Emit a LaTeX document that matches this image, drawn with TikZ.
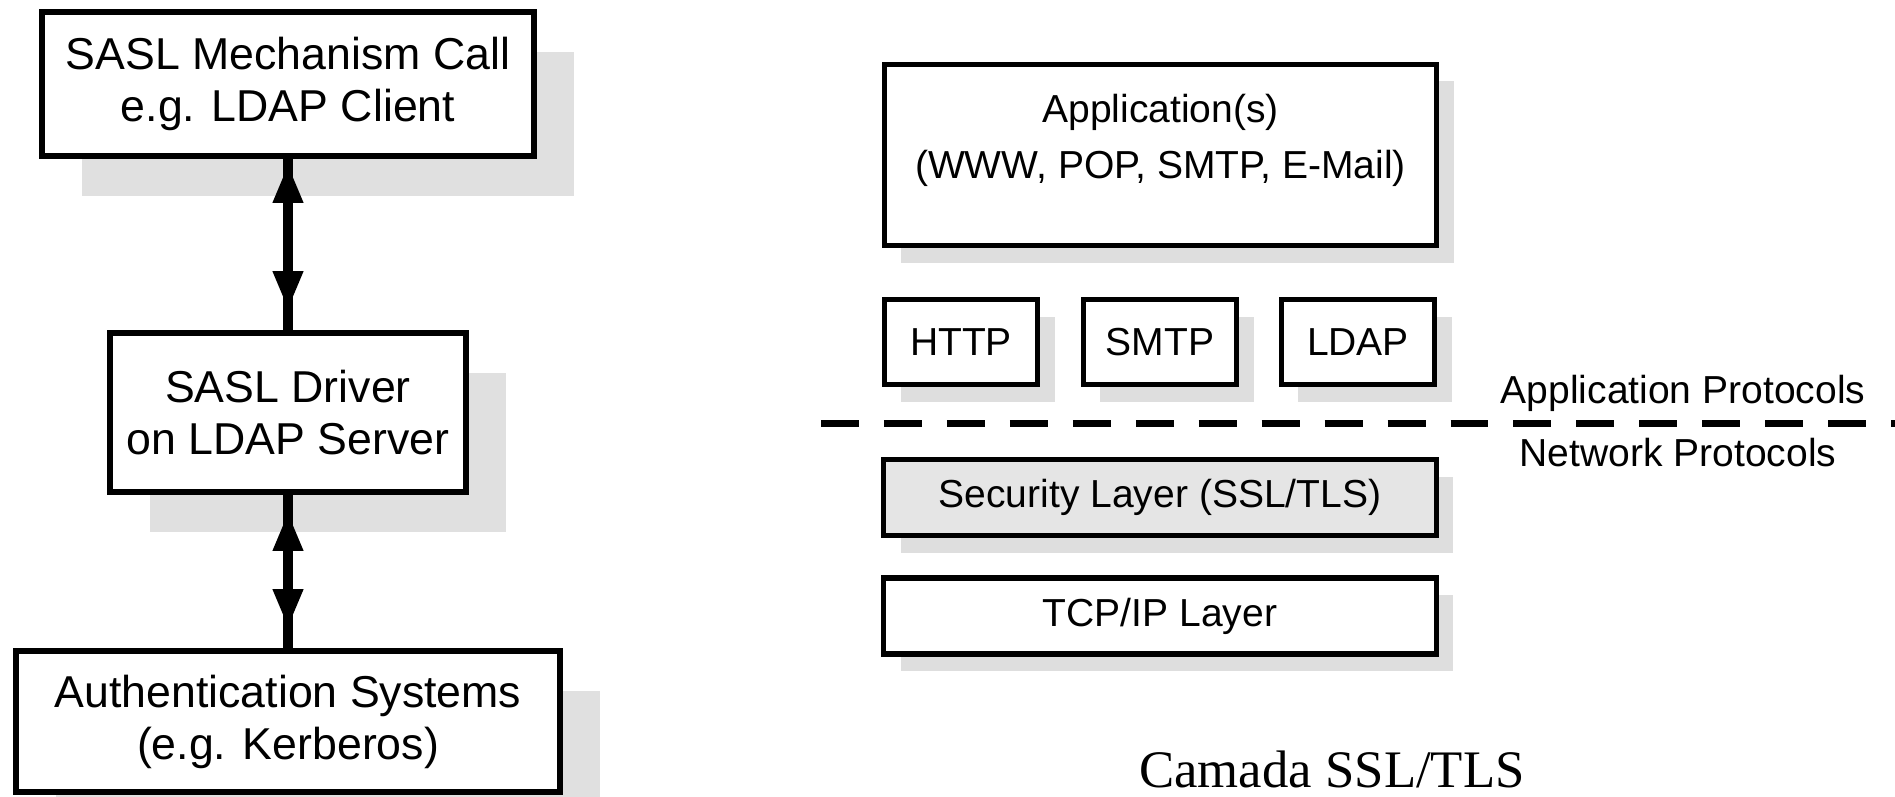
\documentclass[tikz,border=0pt]{standalone}
\usepackage{fontspec}
\setmainfont{Liberation Sans}
\newfontfamily\capfont{Liberation Serif}
\usetikzlibrary{arrows.meta,shadows}

\begin{document}
\begin{tikzpicture}[x=0.01cm,y=-0.01cm,
  bigbox/.style={draw, line width=1.75pt, fill=white, align=center, inner sep=0pt,
    font=\fontsize{12.7pt}{14.8pt}\selectfont,
    drop shadow={shadow xshift=0.4cm, shadow yshift=-0.4cm, fill=black!12, opacity=1}},
  layerbox/.style={draw, line width=1.5pt, fill=white, align=center, inner sep=0pt,
    font=\fontsize{11.1pt}{15.9pt}\selectfont,
    drop shadow={shadow xshift=0.17cm, shadow yshift=-0.17cm, fill=black!13, opacity=1}},
  protobox/.style={layerbox, minimum width=1.53cm, minimum height=0.85cm},
  widebox/.style={layerbox, minimum width=5.52cm, minimum height=0.76cm},
  link/.style={line width=2.6pt},
  tips/.style={link, {Triangle[length=11pt,width=8pt]}-{Triangle[length=11pt,width=8pt]}},
  caption/.style={font=\fontsize{11.1pt}{15.9pt}\selectfont, align=center, inner sep=0pt},
  divider/.style={line width=2pt, dash pattern=on 10.8pt off 7.1pt}
]
\useasboundingbox (0,0) rectangle (1895,796);

% SASL stack
\node[bigbox, minimum width=4.91cm, minimum height=1.44cm] (mech) at (288,84)
  {SASL Mechanism Call\\e.g. LDAP Client};
\node[bigbox, minimum width=3.56cm, minimum height=1.59cm] (drv) at (288,412.5)
  {SASL Driver\\on LDAP Server};
\node[bigbox, minimum width=5.43cm, minimum height=1.41cm] (auth) at (288,721.5)
  {Authentication Systems\\(e.g. Kerberos)};

\draw[link] (mech.south) -- (drv.north);
\draw[tips, shorten <=0.05cm, shorten >=0.2cm] (mech.south) -- (drv.north);
\draw[link] (drv.south) -- (auth.north);
\draw[tips, shorten <=0.17cm, shorten >=0.2cm] (drv.south) -- (auth.north);

% protocol layers
\node[layerbox, minimum width=5.52cm, minimum height=1.81cm] (app) at (1160.5,155) {};
\node[caption] (apptext) at (1160.5,140) {Application(s)\\(WWW, POP, SMTP, E-Mail)};

\node[protobox] (http) at (961,342) {HTTP};
\node[protobox] (smtp) at (1160,342) {SMTP};
\node[protobox] (ldap) at (1358,342) {LDAP};

\coordinate (dl) at (821,423);
\coordinate (dr) at (1895,423);
\draw[divider] (dl) -- (dr);

\node[caption] (aprot) at (1683,393) {Application Protocols};
\node[caption] (nprot) at (1678,453) {Network Protocols};

\node[widebox, fill=black!10] (sec) at (1160,497.5) {Security Layer (SSL/TLS)};
\node[widebox] (tcp) at (1160,616) {TCP/IP Layer};

\node[font=\capfont\fontsize{15pt}{18pt}\selectfont, anchor=base, inner sep=0pt] (title)
  at (1332,787) {Camada SSL/TLS};
\end{tikzpicture}
\end{document}
